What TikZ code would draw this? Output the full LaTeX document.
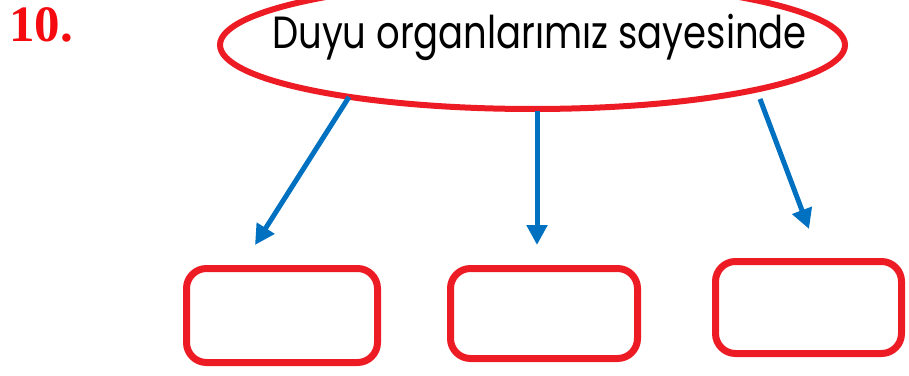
\documentclass[tikz,border=0pt]{standalone}
\usepackage{fontspec}
\setmainfont{Poppins}
\newfontfamily\numfont{Liberation Serif}
\usetikzlibrary{arrows.meta,shapes.geometric}
\definecolor{shapered}{RGB}{237,28,36}
\definecolor{numred}{RGB}{245,10,15}
\definecolor{arrowblue}{RGB}{0,112,192}
\tikzset{
  bubble/.style={ellipse, draw=shapered, line width=6pt, inner sep=0pt, minimum width=625pt, minimum height=128pt},
  answerbox/.style={draw=shapered, line width=7pt, rounded corners=20pt, inner sep=0pt},
  connector/.style={draw=arrowblue, line width=5pt, -{Triangle[length=20pt,width=20pt]}}
}
\begin{document}
\begin{tikzpicture}[x=1pt,y=1pt]
\useasboundingbox (0,0) rectangle (909,375);
\begin{scope}
\clip (0,0) rectangle (909,375);
\node[bubble] (ell) at (532.5,330) {};
\end{scope}
\node[anchor=base west, text=numred, font=\numfont\bfseries\fontsize{51}{51}\selectfont, inner sep=0pt] (num) at (9,333) {10.};
\node[anchor=base, inner sep=0pt, yscale=1.22, font=\fontsize{37}{37}\selectfont] (title) at (539.5,326) {Duyu organlarımız sayesinde};
\node[answerbox, minimum width=191pt, minimum height=94pt] (b1) at (282,59.5) {};
\node[answerbox, minimum width=187pt, minimum height=90pt] (b2) at (544,61.5) {};
\node[answerbox, minimum width=186pt, minimum height=92pt] (b3) at (808.5,67.5) {};
\coordinate (s1) at (349,278);
\coordinate (t1) at (255,130);
\coordinate (s2) at (537,264);
\coordinate (t2) at (537,130);
\coordinate (s3) at (760,276);
\coordinate (t3) at (809,146);
\draw[connector] (s1) -- (t1);
\draw[connector] (s2) -- (t2);
\draw[connector] (s3) -- (t3);
\end{tikzpicture}
\end{document}
